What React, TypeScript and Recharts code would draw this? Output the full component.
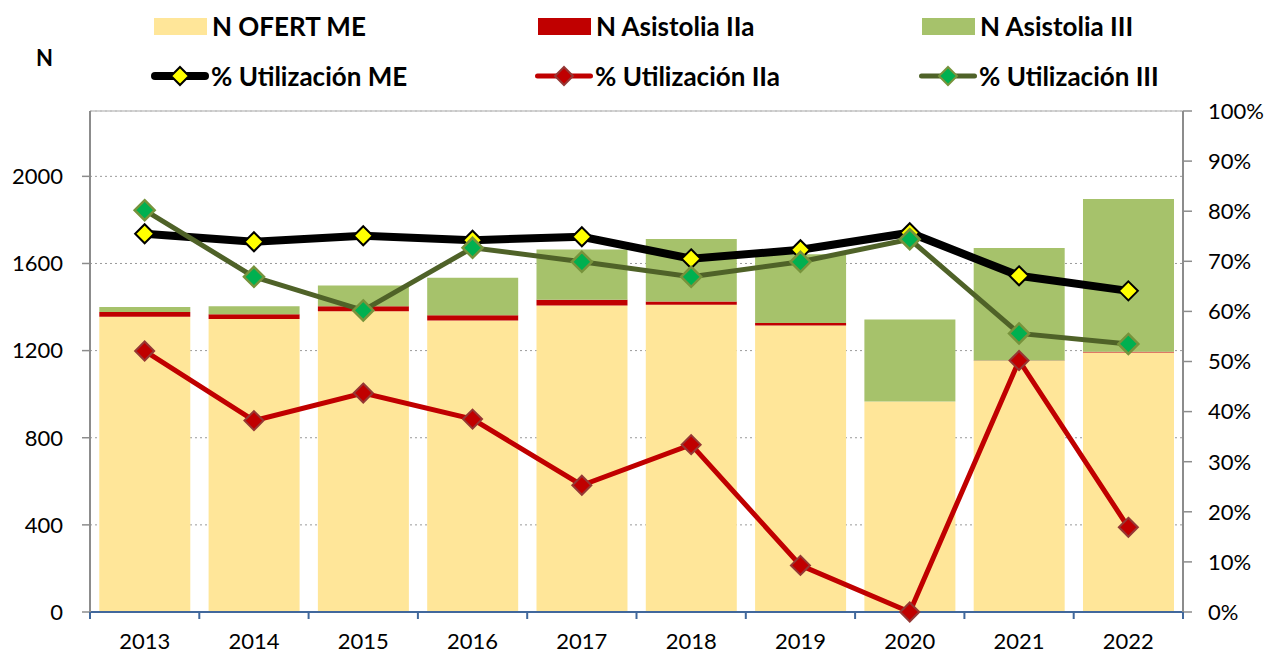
import React from 'react';
import {
  ComposedChart, Bar, Line, XAxis, YAxis, CartesianGrid, Legend, ReferenceLine
} from 'recharts';

// ── data ────────────────────────────────────────────────────
const years = ['2013', '2014', '2015', '2016', '2017', '2018', '2019', '2020', '2021', '2022'];
const nOfertME = [1355, 1345, 1381, 1338, 1407, 1411, 1315, 966, 1153, 1191];
const nAsistIIa = [22, 22, 23, 24, 27, 15, 12, 0, 2, 4];
const nAsistIII = [23, 37, 95, 173, 230, 286, 315, 377, 516, 701];
const utilME = [75.5, 73.9, 75.1, 74.2, 74.9, 70.5, 72.3, 75.7, 67.1, 64.1];
const utilIIa = [52.1, 38.2, 43.7, 38.5, 25.3, 33.4, 9.3, 0, 50.2, 16.9];
const utilIII = [80.2, 66.9, 60.2, 72.7, 69.9, 66.9, 69.9, 74.4, 55.6, 53.5];
const leftTicks = [0, 400, 800, 1200, 1600, 2000];
const rightTicks = [0, 10, 20, 30, 40, 50, 60, 70, 80, 90, 100];

const data = years.map((year, i) => ({
  year,
  ofert: nOfertME[i],
  iia: nAsistIIa[i],
  iii: nAsistIII[i],
  pME: utilME[i],
  pIIa: utilIIa[i],
  pIII: utilIII[i],
}));

// ── layout / styles ─────────────────────────────────────────
const W = 1272;
const H = 656;
const LEFT_W = 90;
const RIGHT_W = 89;
const BAND = (W - LEFT_W - RIGHT_W) / years.length;
const FONT = 'Lato, "Noto Sans", sans-serif';
const AXIS_GRAY = '#8c8c8c';
const AXIS_BLUE = '#41689c';

const C = {
  ofert: '#FFE699',
  iia: '#C00000',
  iii: '#A6C26B',
  me: '#000000',
  iiaLine: '#C00000',
  iiiLine: '#4F6228',
};

const barItems = [
  { name: 'N OFERT ME', color: C.ofert },
  { name: 'N Asistolia IIa', color: C.iia },
  { name: 'N Asistolia III', color: C.iii },
];
const lineItems = [
  { name: '% Utilización ME', color: C.me, width: 8, fill: '#FFFF00', stroke: '#000000' },
  { name: '% Utilización IIa', color: C.iiaLine, width: 5, fill: '#C00000', stroke: '#953735' },
  { name: '% Utilización III', color: C.iiiLine, width: 5, fill: '#00B050', stroke: '#77933C' },
];
const LEGEND_COLS = [154, 538, 922];

const diamond = (fill: string, stroke: string, r: number, sw: number) => (props: any) => {
  const { cx, cy, index } = props;
  if (cx == null || cy == null) return <g key={`d-${index}`} />;
  return (
    <path
      key={`d-${index}`}
      d={`M${cx},${cy - r}L${cx + r},${cy}L${cx},${cy + r}L${cx - r},${cy}Z`}
      fill={fill} stroke={stroke} strokeWidth={sw}
    />
  );
};

const YearTick = (props: any) => {
  const { x, y, payload, index } = props;
  return (
    <g>
      <line x1={x - BAND / 2} x2={x - BAND / 2} y1={y - 7} y2={y} stroke={AXIS_BLUE} strokeWidth={2} />
      {index === years.length - 1 && (
        <line x1={x + BAND / 2} x2={x + BAND / 2} y1={y - 7} y2={y} stroke={AXIS_BLUE} strokeWidth={2} />
      )}
      <text x={x} y={y + 30} textAnchor="middle" fill="#000" fontSize={22} fontFamily={FONT}>
        {payload.value}
      </text>
    </g>
  );
};

const renderLegend = () => (
  <div style={{ position: 'relative', width: W, height: 100, fontFamily: FONT, fontWeight: 700, fontSize: 26, color: '#000' }}>
    {barItems.map((s, i) => (
      <div key={s.name} style={{ position: 'absolute', left: LEGEND_COLS[i], top: 8, height: 36, display: 'flex', alignItems: 'center', whiteSpace: 'nowrap' }}>
        <span style={{ display: 'inline-block', flex: 'none', width: 53, height: 17, background: s.color, marginRight: 5 }} />
        {s.name}
      </div>
    ))}
    {lineItems.map((s, i) => (
      <div key={s.name} style={{ position: 'absolute', left: LEGEND_COLS[i] - 3, top: 58, height: 36, display: 'flex', alignItems: 'center', whiteSpace: 'nowrap' }}>
        <svg width={58} height={22} style={{ flex: 'none', marginRight: 2 }}>
          <line x1={s.width / 2} x2={58 - s.width / 2} y1={11} y2={11} stroke={s.color} strokeWidth={s.width} strokeLinecap="round" />
          <path d="M29,2L38,11L29,20L20,11Z" fill={s.fill} stroke={s.stroke} strokeWidth={2} />
        </svg>
        {s.name}
      </div>
    ))}
  </div>
);

export default function App() {
  return (
    <div style={{ position: 'absolute', left: 0, top: 0, width: W, height: H, background: '#fff' }}>
      <ComposedChart
        width={W} height={H} data={data}
        margin={{ top: 111, right: 0, bottom: 0, left: 0 }}
        barCategoryGap="8.5%"
      >
        <CartesianGrid yAxisId="left" vertical={false} stroke="#9a9a9a" strokeDasharray="2 3" />
        <XAxis
          dataKey="year" height={44} tickSize={7} tickMargin={0}
          tickLine={false} axisLine={{ stroke: AXIS_BLUE, strokeWidth: 2 }}
          tick={<YearTick />} interval={0}
        />
        <YAxis
          yAxisId="left" width={LEFT_W} domain={[0, 2300]} ticks={leftTicks}
          tickSize={8} tickMargin={19}
          tick={{ fontSize: 22, fill: '#000', fontFamily: FONT }}
          tickLine={{ stroke: AXIS_GRAY, strokeWidth: 1.5 }}
          axisLine={{ stroke: AXIS_GRAY, strokeWidth: 2 }}
        />
        <YAxis
          yAxisId="right" orientation="right" width={RIGHT_W} domain={[0, 100]} ticks={rightTicks}
          tickFormatter={(v) => `${v}%`}
          tickSize={9} tickMargin={16}
          tick={{ fontSize: 22, fill: '#000', fontFamily: FONT }}
          tickLine={{ stroke: AXIS_GRAY, strokeWidth: 1.5 }}
          axisLine={{ stroke: AXIS_GRAY, strokeWidth: 2 }}
        />
        <ReferenceLine yAxisId="left" y={2300} stroke="#c4c4c4" strokeWidth={1.5} />
        <Legend
          content={renderLegend} layout="horizontal" align="center" verticalAlign="middle"
          wrapperStyle={{ position: 'absolute', left: 0, top: 0, width: W, height: 100 }}
        />
        <Bar yAxisId="left" dataKey="ofert" name="N OFERT ME" stackId="n" fill={C.ofert} isAnimationActive={false} />
        <Bar yAxisId="left" dataKey="iia" name="N Asistolia IIa" stackId="n" fill={C.iia} isAnimationActive={false} />
        <Bar yAxisId="left" dataKey="iii" name="N Asistolia III" stackId="n" fill={C.iii} isAnimationActive={false} />
        <Line
          yAxisId="right" dataKey="pME" name="% Utilización ME" stroke={C.me} strokeWidth={8}
          dot={diamond('#FFFF00', '#000000', 9.5, 2)} activeDot={false} isAnimationActive={false}
        />
        <Line
          yAxisId="right" dataKey="pIIa" name="% Utilización IIa" stroke={C.iiaLine} strokeWidth={5}
          dot={diamond('#C00000', '#953735', 9.5, 2)} activeDot={false} isAnimationActive={false}
        />
        <Line
          yAxisId="right" dataKey="pIII" name="% Utilización III" stroke={C.iiiLine} strokeWidth={5}
          dot={diamond('#00B050', '#77933C', 10, 2.5)} activeDot={false} isAnimationActive={false}
        />
      </ComposedChart>
      <div style={{ position: 'absolute', left: 36, top: 44, fontFamily: FONT, fontWeight: 700, fontSize: 22, color: '#000' }}>
        N
      </div>
    </div>
  );
}
